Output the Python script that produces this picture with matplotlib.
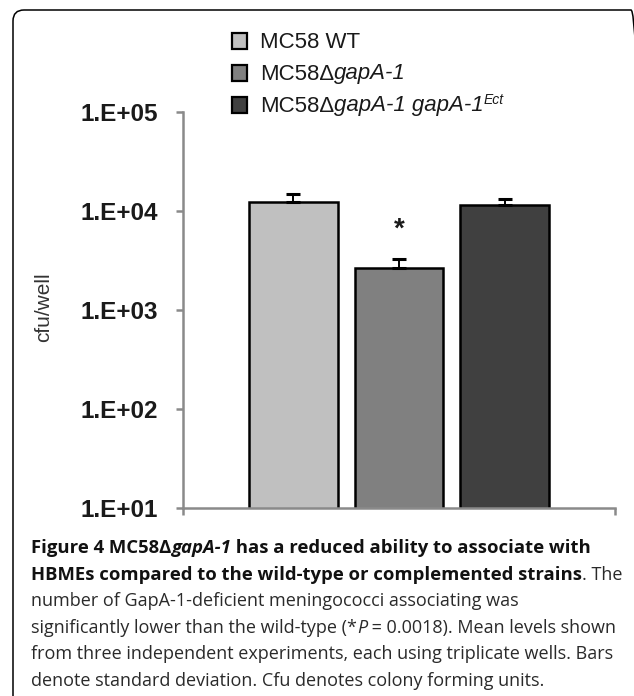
import matplotlib
matplotlib.use("Agg")
import matplotlib.pyplot as plt
from matplotlib.patches import FancyBboxPatch, Rectangle
from matplotlib.transforms import IdentityTransform

# Données
strains = ["MC58 WT", "MC58\u0394gapA-1", "MC58\u0394gapA-1 gapA-1Ect"]
mean_cfu = [12250, 2670, 11500]
sd_cfu = [2500, 600, 1600]
signif = ["", "*", ""]
colors = ["#c0c0c0", "#808080", "#404040"]
yticks = [1e1, 1e2, 1e3, 1e4, 1e5]
ytick_labels = ["1.E+01", "1.E+02", "1.E+03", "1.E+04", "1.E+05"]

W, H = 634, 696
fig = plt.figure(figsize=(W / 100, H / 100), dpi=100)
renderer = fig.canvas.get_renderer()

AXIS = "#8a8a8a"
TXT = "#1a1a1a"
CAP_FONT = ["Open Sans", "DejaVu Sans"]


def px(x, y):
    return x / W, 1 - y / H


def seg_width(s, props):
    t1 = fig.text(0, 0, "|" + s + "|", **props)
    t2 = fig.text(0, 0, "||", **props)
    w = t1.get_window_extent(renderer).width - t2.get_window_extent(renderer).width
    t1.remove()
    t2.remove()
    return w


def draw_runs(x, y, runs, base):
    # x, y en pixels (y depuis le haut), ligne de base
    for s, extra in runs:
        props = dict(base)
        props.update(extra)
        dy = props.pop("dy", 0)
        fx, fy = px(x, y - dy)
        fig.text(fx, fy, s, va="baseline", ha="left", **props)
        x += seg_width(s, props)


# Cadre arrondi
fig.add_artist(FancyBboxPatch((13, -40), 629, H - 10 + 40,
                              boxstyle="round,pad=0,rounding_size=11",
                              transform=IdentityTransform(), fill=False,
                              edgecolor="black", linewidth=1.1))

# Graphique
ax = fig.add_axes([183 / W, 1 - 508 / H, 432 / W, 396 / H])
x = range(len(strains))
ax.bar(x, mean_cfu, 0.84, color=colors, edgecolor="black", linewidth=1.8,
       zorder=2)
ax.errorbar(x, mean_cfu, yerr=[[0] * len(sd_cfu), sd_cfu], fmt="none",
            ecolor="black", elinewidth=1.4, capsize=4.8, capthick=2.2, zorder=3)
for i, s in enumerate(signif):
    if s:
        ax.text(i, (mean_cfu[i] + sd_cfu[i]) * 2.0, s, ha="center",
                va="center", fontsize=20, fontweight="bold", color=TXT,
                family="Liberation Sans")

ax.set_yscale("log")
ax.set_ylim(1e1, 1e5)
ax.set_xlim(-1.04, 3.04)
ax.set_yticks(yticks)
ax.set_yticklabels(ytick_labels, fontsize=17.5, fontweight="bold", color=TXT,
                   family="Liberation Sans")
ax.yaxis.set_minor_locator(matplotlib.ticker.NullLocator())
ax.set_xticks([-1.04, 3.04])
ax.set_xticklabels([])
ax.tick_params(axis="y", length=5, width=1.8, color=AXIS, pad=13)
ax.tick_params(axis="x", length=5, width=1.8, color=AXIS)
for side in ["top", "right"]:
    ax.spines[side].set_visible(False)
for side in ["left", "bottom"]:
    ax.spines[side].set_color(AXIS)
    ax.spines[side].set_linewidth(1.8)
ax.set_ylabel("cfu/well", fontsize=15, color="#333333", family="Liberation Sans")
ax.yaxis.set_label_coords((44 - 183) / 432, (508 - 307) / 396)
ax.yaxis.label.set_va("center")

# Légende
leg_font = dict(fontsize=16, color=TXT, family="Liberation Sans")
leg_runs = [
    [("MC58 WT", {})],
    [("MC58\u0394", {}), ("gapA-1", {"style": "italic"})],
    [("MC58\u0394", {}), ("gapA-1 gapA-1", {"style": "italic"}),
     ("Ect", {"style": "italic", "fontsize": 10, "dy": 8})],
]
for i, runs in enumerate(leg_runs):
    base_y = 47.5 + 32 * i
    fx, fy = px(232, base_y + 1)
    fig.add_artist(Rectangle((fx, fy), 15 / W, 15 / H, transform=fig.transFigure,
                             facecolor=colors[i], edgecolor="black", linewidth=1.6))
    draw_runs(260, base_y, runs, leg_font)

# Légende de la figure
cap = dict(fontsize=13.0, color="#2a2a2a", family=CAP_FONT)
B = {"weight": "bold", "fontsize": 13.3, "color": "#111111"}
BI = {"weight": "bold", "style": "italic", "fontsize": 13.3, "color": "#111111"}
I = {"style": "italic"}
caption = [
    [("Figure 4 MC58\u0394", B), ("gapA-1", BI),
     (" has a reduced ability to associate with", B)],
    [("HBMEs compared to the wild-type or complemented strains", B), (". The", {})],
    [("number of GapA-1-deficient meningococci associating was", {})],
    [("significantly lower than the wild-type (*", {}), ("P", I),
     (" = 0.0018). Mean levels shown", {})],
    [("from three independent experiments, each using triplicate wells. Bars", {})],
    [("denote standard deviation. Cfu denotes colony forming units.", {})],
]
for i, runs in enumerate(caption):
    draw_runs(31, 553 + 26.6 * i, runs, cap)

fig.savefig("out.png", dpi=100)
plt.close(fig)
